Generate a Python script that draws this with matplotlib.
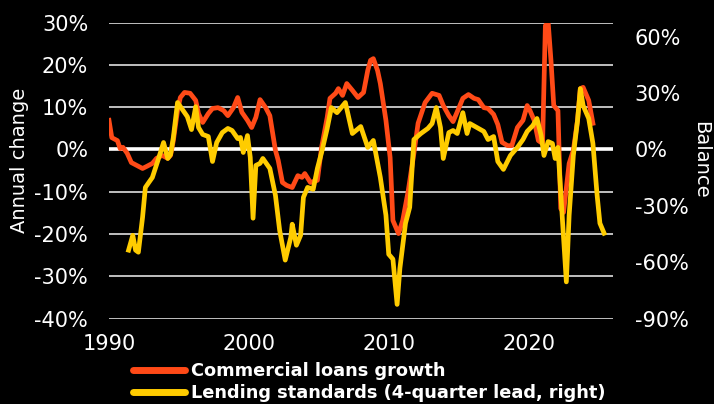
import numpy as np
import matplotlib.pyplot as plt
from matplotlib.lines import Line2D

plt.rcParams['font.family'] = ['DejaVu Sans']

# Commercial loans growth, annual change (%), left axis
loans_year = [1990.0, 1990.2, 1990.6, 1990.8, 1991.0, 1991.3, 1991.6, 1992.0, 1992.4, 1992.7,
              1993.1, 1993.4, 1993.8, 1994.2, 1994.4, 1994.6, 1994.7, 1994.9, 1995.1, 1995.4,
              1995.8, 1996.2, 1996.4, 1996.7, 1997.1, 1997.4, 1997.8, 1998.2, 1998.5, 1998.9,
              1999.2, 1999.5, 1999.9, 2000.2, 2000.5, 2000.8, 2001.2, 2001.5, 2001.9, 2002.1,
              2002.4, 2002.7, 2003.1, 2003.5, 2003.8, 2004.0, 2004.4, 2004.9, 2005.2, 2005.6,
              2005.8, 2006.2, 2006.4, 2006.7, 2007.0, 2007.4, 2007.8, 2008.2, 2008.5, 2008.7,
              2008.9, 2009.2, 2009.4, 2009.8, 2010.1, 2010.3, 2010.7, 2011.0, 2011.4, 2011.8,
              2012.1, 2012.6, 2013.1, 2013.6, 2013.9, 2014.3, 2014.6, 2015.0, 2015.3, 2015.7,
              2016.1, 2016.4, 2016.8, 2017.1, 2017.5, 2017.8, 2018.1, 2018.5, 2018.8, 2019.2,
              2019.6, 2019.9, 2020.1, 2020.4, 2020.7, 2021.0, 2021.2, 2021.4, 2021.6, 2021.8,
              2022.1, 2022.3, 2022.5, 2022.9, 2023.2, 2023.5, 2023.7, 2023.9, 2024.3, 2024.6]
loans_growth = [6.9, 2.8, 2.1, 0.2, 0.5, -0.9, -3.1, -3.8, -4.5, -4.0,
                -3.3, -2.1, -1.4, -2.1, -1.4, 2.1, 4.5, 9.2, 12.3, 13.5,
                13.3, 11.6, 8.5, 6.4, 8.5, 9.7, 9.9, 9.2, 8.0, 9.9,
                12.3, 8.8, 6.9, 5.2, 7.6, 11.8, 9.9, 8.0, -0.2, -2.6,
                -7.8, -8.5, -9.0, -6.2, -6.6, -5.7, -7.8, -7.3, 0.5, 7.6,
                12.1, 13.3, 14.4, 12.8, 15.6, 14.0, 12.3, 13.5, 18.7, 21.1,
                21.5, 18.7, 15.6, 6.9, -1.9, -16.8, -19.9, -16.8, -9.7, -0.9,
                6.2, 11.1, 13.3, 12.8, 10.4, 8.0, 6.6, 9.7, 12.1, 13.0,
                12.1, 11.8, 9.9, 9.7, 8.3, 5.9, 1.7, 0.9, 0.9, 5.2,
                6.9, 10.4, 9.2, 6.9, 2.1, 1.4, 29.3, 30.1, 21.1, 10.4,
                9.2, -14.0, -14.9, -3.3, -0.2, 6.9, 14.4, 14.7, 11.6, 6.2]

# Lending standards, 4-quarter lead, balance (%), right axis
std_year = [1991.4, 1991.7, 1991.9, 1992.1, 1992.4, 1992.6, 1992.9, 1993.1, 1993.5, 1993.9,
            1994.2, 1994.4, 1994.6, 1994.9, 1995.2, 1995.6, 1995.9, 1996.2, 1996.4, 1996.7,
            1997.1, 1997.4, 1997.7, 1998.1, 1998.5, 1998.8, 1999.2, 1999.4, 1999.6, 1999.9,
            2000.1, 2000.3, 2000.5, 2000.8, 2001.0, 2001.5, 2001.9, 2002.2, 2002.6, 2003.0,
            2003.1, 2003.4, 2003.7, 2003.9, 2004.2, 2004.6, 2004.9, 2005.2, 2005.6, 2005.9,
            2006.3, 2006.9, 2007.4, 2008.0, 2008.5, 2008.9, 2009.4, 2009.8, 2010.0, 2010.3,
            2010.6, 2010.8, 2011.2, 2011.5, 2011.8, 2012.3, 2012.8, 2013.1, 2013.4, 2013.7,
            2013.9, 2014.3, 2014.6, 2014.9, 2015.3, 2015.6, 2015.8, 2016.3, 2016.8, 2017.1,
            2017.5, 2017.8, 2018.2, 2018.7, 2019.2, 2019.6, 2019.9, 2020.3, 2020.6, 2020.9,
            2021.1, 2021.4, 2021.7, 2021.9, 2022.1, 2022.4, 2022.7, 2022.9, 2023.2, 2023.5,
            2023.7, 2023.9, 2024.3, 2024.6, 2024.9, 2025.1, 2025.4]
std_balance = [-53.6, -45.7, -53.6, -54.7, -36.1, -20.2, -17.0, -14.9, -5.8, 3.7,
               -4.8, -2.7, 6.4, 25.0, 21.8, 17.5, 10.6, 22.8, 11.7, 8.0,
               6.9, -6.4, 3.7, 9.0, 11.2, 10.1, 5.8, 6.4, -1.6, 7.4,
               -4.2, -36.6, -8.5, -7.4, -4.8, -10.1, -24.4, -43.0, -58.9, -46.7,
               -39.8, -51.0, -45.7, -25.5, -20.2, -21.2, -10.1, -1.6, 11.2, 22.3,
               19.6, 25.0, 8.5, 12.2, 1.1, 4.8, -14.9, -35.0, -55.8, -58.4,
               -82.5, -63.2, -39.3, -30.8, 5.3, 8.5, 11.2, 13.8, 22.3, 11.7,
               -4.8, 9.0, 10.1, 8.5, 19.6, 8.5, 13.8, 11.7, 9.6, 5.3,
               6.9, -6.4, -10.6, -3.2, 1.1, 5.3, 9.6, 12.7, 16.5, 7.4,
               -3.2, 4.2, 3.2, -4.8, 1.1, -35.0, -70.5, -35.0, -3.2, 15.4,
               32.4, 23.4, 16.5, 3.2, -24.4, -39.3, -44.6]

left_ticks = [-40, -30, -20, -10, 0, 10, 20, 30]
right_ticks = [-90, -60, -30, 0, 30, 60]
year_ticks = [1990, 2000, 2010, 2020]

red = '#ff4a17'
yellow = '#ffcc00'

fig = plt.figure(figsize=(7.14, 4.04), dpi=100)
fig.patch.set_facecolor('black')
ax = fig.add_axes([109/714, 1-318.5/404, (612.5-109)/714, (318.5-22.7)/404])
ax.set_facecolor('black')
ax2 = ax.twinx()

ax.set_xlim(1990, 2026)
ax.set_ylim(-40, 30)
ax.set_yticks(left_ticks)
ax.set_yticklabels(['{}%'.format(v) for v in left_ticks])
ax.set_xticks(year_ticks)
ax.yaxis.grid(True, color='#cfcfcf', linewidth=1.3)
ax.axhline(0, color='white', linewidth=2.6, zorder=1.5)
ax.set_axisbelow(True)

ax2.set_ylim(-90, 67.5)
ax2.set_yticks(right_ticks)
ax2.set_yticklabels(['{}%'.format(v) for v in right_ticks])

ax.plot(loans_year, loans_growth, color=red, linewidth=3.4, solid_joinstyle='round', zorder=3)
ax2.plot(std_year, std_balance, color=yellow, linewidth=3.4, solid_joinstyle='round', zorder=3)

for a in (ax, ax2):
    for s in a.spines.values():
        s.set_visible(False)
ax.tick_params(axis='y', length=0, pad=15, labelsize=15, colors='white')
ax.tick_params(axis='x', length=0, pad=11, labelsize=15, colors='white')
ax2.tick_params(axis='y', length=0, pad=16, labelsize=15, colors='white')

fig.text(20/714, 1-160/404, 'Annual change', color='white', fontsize=14,
         rotation=90, ha='center', va='center')
fig.text(701/714, 1-160/404, 'Balance', color='white', fontsize=14,
         rotation=270, ha='center', va='center')

handles = [Line2D([], [], color=red, linewidth=5, solid_capstyle='round'),
           Line2D([], [], color=yellow, linewidth=5, solid_capstyle='round')]
labels = ['Commercial loans growth', 'Lending standards (4-quarter lead, right)']
fig.legend(handles, labels, loc='upper left', bbox_to_anchor=(133/714, 1-362/404),
           frameon=False, borderpad=0, borderaxespad=0, handlelength=2.9,
           handletextpad=0.35, labelspacing=0.25,
           prop={'weight': 'bold', 'size': 12.8}, labelcolor='white')

fig.savefig('out.png', dpi=100, facecolor='black')
